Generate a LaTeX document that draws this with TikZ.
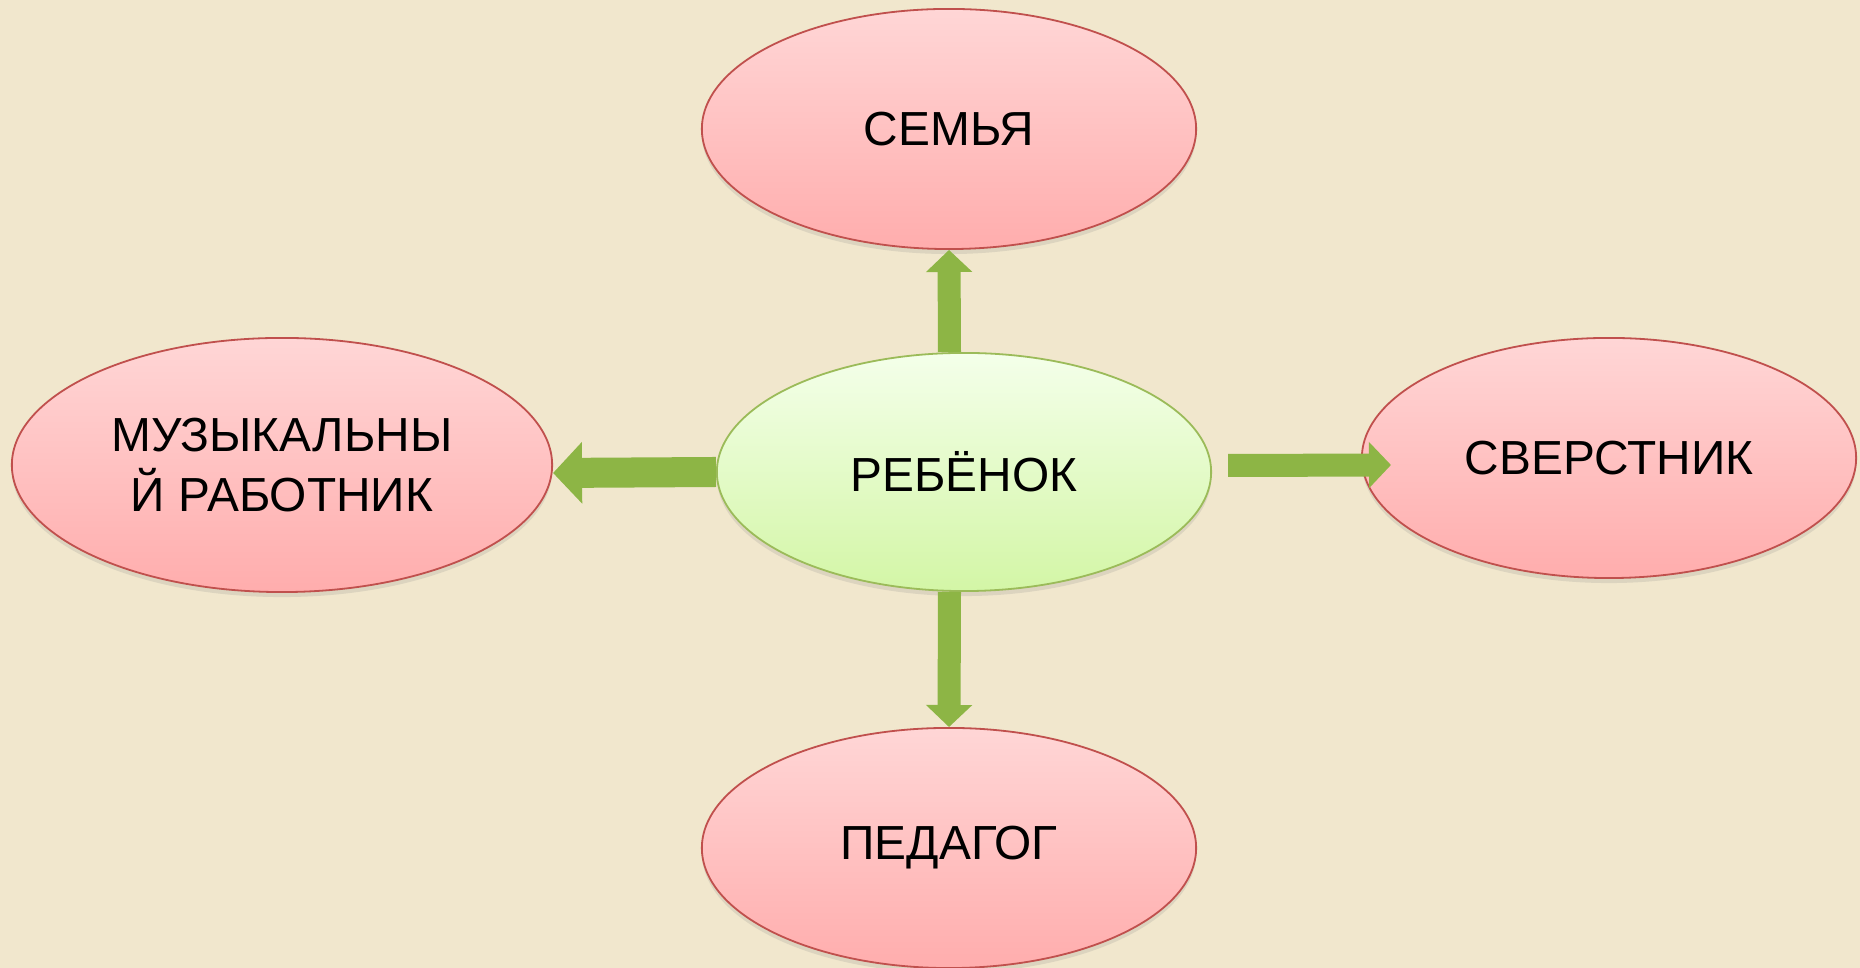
\documentclass[tikz,border=0pt]{standalone}
\usepackage{fontspec}
\setmainfont{Liberation Sans}
\usetikzlibrary{shapes.geometric,arrows.meta,shadows}
\definecolor{bg}{HTML}{F1E7CD}
\definecolor{pinktop}{HTML}{FFD6D6}
\definecolor{pinkbot}{HTML}{FFADAD}
\definecolor{pinkline}{HTML}{C0504D}
\definecolor{greentop}{HTML}{F4FFEA}
\definecolor{greenbot}{HTML}{D3F6A6}
\definecolor{greenline}{HTML}{9BBB59}
\definecolor{arrowgreen}{HTML}{8DB545}
\tikzset{
  pinkell/.style={ellipse, inner sep=0pt, draw=pinkline, line width=0.018cm,
    top color=pinktop, bottom color=pinkbot, align=center,
    font=\fontsize{13.6}{16.9}\selectfont,
    drop shadow={opacity=0.18, shadow xshift=0cm, shadow yshift=-0.05cm}},
  greenell/.style={ellipse, inner sep=0pt, draw=greenline, line width=0.018cm,
    top color=greentop, bottom color=greenbot, align=center,
    font=\fontsize{13.6}{16.9}\selectfont,
    drop shadow={opacity=0.18, shadow xshift=0cm, shadow yshift=-0.05cm}},
  garrow/.style={draw=arrowgreen, line width=0.23cm,
    -{Triangle[width=0.45cm,length=0.22cm]}},
  garrowwide/.style={draw=arrowgreen, line width=0.30cm,
    -{Triangle[width=0.60cm,length=0.29cm]}},
}
\begin{document}
\begin{tikzpicture}[x=0.01cm,y=-0.01cm]
\useasboundingbox (0,0) rectangle (1860,968);
\fill[bg] (0,0) rectangle (1860,968);
\node[pinkell, minimum width=4.94cm, minimum height=2.40cm] (sem) at (949,129) {СЕМЬЯ};
\node[pinkell, minimum width=5.40cm, minimum height=2.54cm] (muz) at (282,465) {МУЗЫКАЛЬНЫ\\Й РАБОТНИК};
\node[pinkell, minimum width=4.94cm, minimum height=2.40cm] (sv) at (1609,458) {СВЕРСТНИК};
\node[pinkell, minimum width=4.94cm, minimum height=2.40cm] (ped) at (949,848) {ПЕДАГОГ};
\node[greenell, minimum width=4.94cm, minimum height=2.38cm] (reb) at (964,472) {РЕБЁНОК};
\draw[garrow] ([xshift=-0.145cm]reb.north) -- (sem.south);
\draw[garrow] ([xshift=-0.145cm]reb.south) -- (ped.north);
\draw[garrowwide] (reb.west) -- ([yshift=-0.08cm]muz.east);
\draw[garrow] ([xshift=0.16cm,yshift=0.065cm]reb.east) -- ([xshift=0.30cm,yshift=-0.07cm]sv.west);
\end{tikzpicture}
\end{document}
